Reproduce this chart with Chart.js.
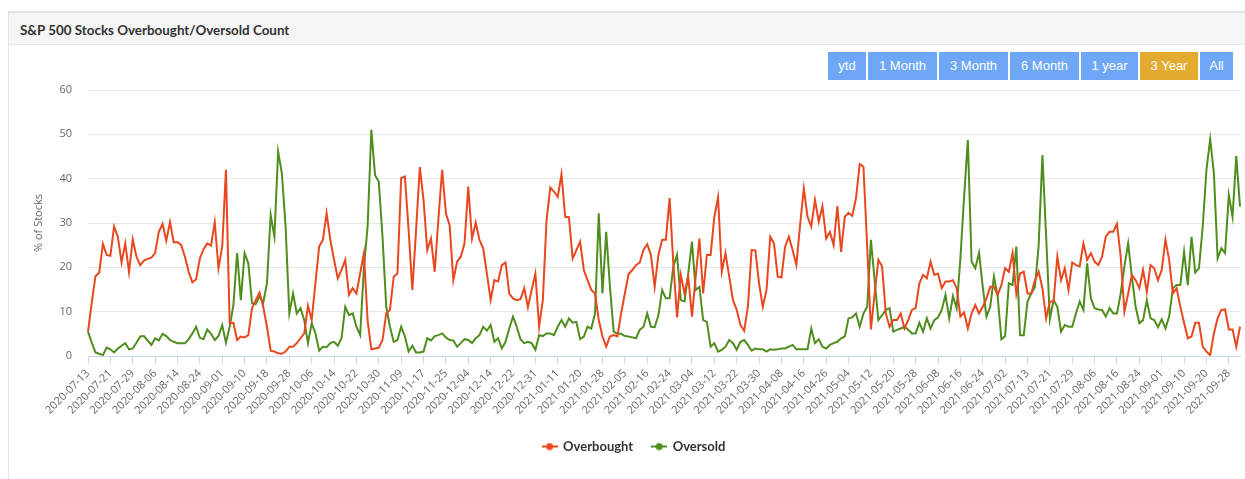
<!DOCTYPE html>
<html>
<head>
<meta charset="utf-8">
<title>S&amp;P 500 Stocks Overbought/Oversold Count</title>
<script src="https://cdn.jsdelivr.net/npm/chart.js@4.4.0/dist/chart.umd.min.js"></script>
<style>
  html, body { margin: 0; padding: 0; background: #fff; }
  body { width: 1245px; height: 479px; position: relative; overflow: hidden; font-family: "Open Sans", sans-serif; }
  .card { position: absolute; left: 8px; top: 11px; width: 1250px; height: 470px; border-left: 1px solid #e4e4e4; border-top: 2px solid #e2e2e2; }
  .card-head { height: 31px; background: #f5f5f5; border-bottom: 1px solid #e8e8e8; }
  .card-head h3 { margin: 0; padding-left: 11px; font: bold 13.4px Lato, "Open Sans", sans-serif; line-height: 34px; color: #333; }
  .btn { position: absolute; top: 52px; height: 28px; text-align: center; background: #6ea7f6; color: #fff; font: 13px "Liberation Sans", Arial, sans-serif; line-height: 28px; }
  .btn.on { background: #e3ab2f; }
  #wrap { position: absolute; left: 8px; top: 80px; width: 1237px; height: 395px; }
</style>
</head>
<body>
<div class="card"><div class="card-head"><h3>S&amp;P 500 Stocks Overbought/Oversold Count</h3></div></div>
<div class="btn" style="left:828px;width:38px">ytd</div>
<div class="btn" style="left:868px;width:69px">1 Month</div>
<div class="btn" style="left:939px;width:69px">3 Month</div>
<div class="btn" style="left:1010px;width:69px">6 Month</div>
<div class="btn" style="left:1081px;width:57px">1 year</div>
<div class="btn on" style="left:1140px;width:58px">3 Year</div>
<div class="btn" style="left:1200px;width:33px">All</div>
<div id="wrap"><canvas id="grafico"></canvas></div>
<script>
// trading days shown on the x axis
const startDate = '2020-07-13';
const endDate = '2021-10-01';
const holidays = ['2020-09-07', '2020-11-26', '2020-12-25', '2021-01-01', '2021-01-18',
  '2021-02-15', '2021-04-02', '2021-05-31', '2021-07-05', '2021-09-06'];
const labelEvery = 6;

// % of stocks overbought (red)
const overbought = [
  5.5, 12, 18, 18.8, 25.3, 22.8, 22.6, 29.2, 26.9, 21.1, 25.4, 18.9, 26.3, 22.4, 20.5, 21.5, 21.9, 22.2, 23.2, 28.0,
  29.8, 26.0, 30.2, 25.6, 25.7, 25.0, 22.4, 19.0, 16.6, 17.3, 22.0, 24.1, 25.4, 24.9, 30.2, 19.8, 24.7, 42.0, 7.4, 7.5,
  3.6, 4.4, 4.2, 4.7, 10.8, 12.6, 14.3, 11.1, 6.6, 1.2, 1.0, 0.6, 0.5, 1.0, 2.1, 2.1, 2.9, 4.0, 5.1, 11.3,
  8.1, 16.4, 24.7, 26.2, 32.2, 26.2, 21.7, 17.5, 19.4, 21.7, 13.8, 15.3, 14.1, 18.6, 23.2, 8.0, 1.5, 1.7, 1.9,
  3.6, 9.6, 10.4, 17.9, 18.6, 40.1, 40.5, 28.4, 14.9, 28.4, 42.6, 35.2, 23.9, 26.5, 19.0, 31.1, 42.0, 32.2, 29.5, 17.1,
  21.3, 22.4, 25.4, 38.2, 26.5, 30.1, 26.2, 24.3, 18.6, 12.6, 17.1, 16.8, 20.5, 21.1, 14.1, 13.0, 12.6, 12.8, 15.3, 11,
  14.9, 18.6, 6.6, 12.6, 30.7, 38.0, 37.1, 35.9, 41.0, 31.4, 31.3, 22.0, 23.9, 25.8, 19.4, 17.1, 14.9, 14.1, 8.1, 4.4,
  2.1, 4.4, 4.7, 4.4, 9.6, 14.1, 18.5, 19.4, 20.5, 21.1, 23.9, 25.2, 22.8, 15.6, 22.8, 26.2, 26.2, 35.6, 21,
  8.7, 18.3, 14.1, 17.9, 8.9, 17.9, 26.5, 14.1, 22.8, 22.8, 31.4, 35.8, 19.0, 23.2, 17.9, 12.6, 10.4, 7.0, 5.7, 11.1,
  23.9, 23.8, 16.4, 11.1, 14.9, 26.9, 25.4, 17.9, 17.7, 24.7, 26.9, 23.9, 20.5, 29.5, 37.8, 31.4, 29.2, 35.2, 30.3,
  33.8, 26.5, 28.0, 25.0, 33.8, 23.5, 31.4, 32.3, 31.6, 35.6, 43.3, 42.7, 24.7, 6.0, 14.1, 21.7, 20.2, 9.6, 6.6, 8.1,
  8.1, 9.6, 6.2, 8.1, 10.4, 10.8, 16.4, 18.3, 17.5, 21.3, 18.3, 18.6, 15.3, 16.8, 16.8, 17.1, 15.3, 8.9, 9.8,
  6.2, 9.6, 11.5, 9.6, 11.1, 13.0, 15.6, 15.6, 13.8, 16.0, 19.8, 19.0, 23.2, 14.1, 18.6, 19.0, 14.1, 14.1, 17.1, 19.0,
  15.3, 8.5, 12.3, 12.3, 22.4, 17.1, 19.8, 14.9, 21.1, 20.5, 20.2, 25.4, 21.7, 23.2, 21.3, 20.5, 22.4, 26.9, 28.0,
  28.0, 29.8, 22.4, 10.0, 14.1, 18.3, 17.1, 15.3, 19.4, 14.5, 20.5, 19.8, 17.1, 19.4, 26.2, 21.7, 14.1, 15.3, 11.1, 7.5,
  4.0, 4.4, 7.5, 7.5, 2.1, 1.0, 0.2, 5.1, 8.5, 10.4, 10.5, 6.0, 6.0, 2.1, 6.6
];

// % of stocks oversold (green)
const oversold = [
  5.5, 3, 0.8, 0.5, 0.2, 1.9, 1.5, 0.8, 1.7, 2.3, 2.9, 1.5, 1.7, 3.0, 4.4, 4.5, 3.5, 2.5, 4.0, 3.5,
  5.0, 4.5, 3.6, 3.2, 2.9, 2.9, 2.9, 3.8, 5.1, 6.6, 4.1, 3.8, 6.0, 5.0, 3.6, 4.5, 7.0, 3.0, 6.6, 11.5,
  23.2, 12.6, 23.2, 20.9, 11.9, 11.7, 13.4, 12.0, 16.4, 31.8, 26.9, 46.1, 41.2, 29.2, 9.6, 14.1, 9.6, 10.8, 8.1, 2.9,
  7.4, 5.1, 1.2, 2.1, 2.0, 2.9, 3.2, 2.3, 4.0, 11.1, 9.2, 9.6, 6.6, 4.7, 19.8, 29.2, 51.0, 40.8, 39.3,
  26.9, 11.1, 6.6, 3.2, 3.6, 6.6, 4.4, 1.0, 2.3, 0.8, 0.8, 1.0, 4.0, 3.5, 4.5, 4.7, 5.1, 4.2, 3.6, 3.5,
  2.1, 2.9, 3.8, 3.6, 2.9, 4.0, 4.7, 6.6, 5.7, 7.0, 3.2, 4.0, 1.7, 3.2, 6.2, 8.9, 6.6, 3.8, 2.9, 3.2,
  2.9, 1.4, 4.7, 4.5, 5.1, 5.1, 4.7, 6.6, 8.1, 6.6, 8.5, 7.5, 7.7, 3.8, 4.4, 6.6, 6.2, 9.6, 32.2, 14.1,
  28.0, 15.6, 5.5, 5.0, 5.0, 4.5, 4.4, 4.2, 4.0, 5.9, 6.6, 9.6, 6.6, 6.5, 9.2, 14.9, 13.0, 13.0, 20.2,
  22.8, 12.6, 12.3, 18.6, 25.8, 14.9, 15.6, 8.1, 7.7, 2.1, 2.9, 1.0, 1.4, 2.1, 3.6, 2.9, 1.4, 3.2, 3.6, 2.5,
  1.2, 1.7, 1.5, 1.5, 1.0, 1.5, 1.4, 1.5, 1.7, 1.7, 2.1, 2.5, 1.5, 1.5, 1.5, 1.5, 6.2, 2.9, 3.8,
  2.1, 1.7, 2.5, 2.9, 3.2, 4.0, 4.4, 8.5, 8.7, 9.6, 6.6, 9.6, 11.1, 26.2, 17.1, 8.1, 9.2, 10.4, 10.8, 5.5,
  5.9, 6.2, 6.6, 5.9, 5.1, 5.1, 7.5, 5.5, 8.5, 6.2, 8.1, 8.7, 10.4, 13.8, 8.5, 13.5, 10.8, 22, 36,
  48.7, 21.3, 19.8, 23.3, 15.6, 8.9, 11.1, 17.9, 13.4, 3.8, 4.5, 16.4, 16.0, 24.7, 4.7, 4.7, 12.3, 14.1, 15.6, 25,
  45.3, 27, 8.3, 12.6, 11.1, 5.5, 7.0, 6.6, 6.6, 9.6, 12.3, 10.4, 20.9, 13.0, 10.8, 10.5, 10.4, 8.9, 10.8,
  9.6, 9.6, 14.1, 20.2, 25.4, 17.9, 11.1, 7.4, 8.1, 12.6, 8.5, 8.1, 6.5, 8.3, 6.2, 8.9, 15.3, 16.0, 16.0, 23.5,
  16.0, 26.9, 18.8, 19.8, 29.2, 42.0, 48.9, 41.2, 22.0, 24.3, 23.2, 36.3, 31.4, 45.1, 33.7
];

// lista de pregões (dias úteis sem feriados)
function tradingDays(from, to, skip) {
  const out = [];
  const d = new Date(from + 'T00:00:00Z');
  const end = new Date(to + 'T00:00:00Z');
  while (d <= end) {
    const iso = d.toISOString().slice(0, 10);
    const wd = d.getUTCDay();
    if (wd !== 0 && wd !== 6 && !skip.includes(iso)) out.push(iso);
    d.setUTCDate(d.getUTCDate() + 1);
  }
  return out;
}
const dates = tradingDays(startDate, endDate, holidays);

const RED = '#e8471f';
const GREEN = '#4f8e1e';

// marcador da legenda: linha com bolinha
function legendMarker(color) {
  const c = document.createElement('canvas');
  c.width = 16; c.height = 8;
  const g = c.getContext('2d');
  g.strokeStyle = color; g.lineWidth = 2;
  g.beginPath(); g.moveTo(0, 4); g.lineTo(16, 4); g.stroke();
  g.fillStyle = color;
  g.beginPath(); g.arc(8, 4, 3.5, 0, Math.PI * 2); g.fill();
  return c;
}

const ctx = document.getElementById('grafico').getContext('2d');
const grafico = new Chart(ctx, {
  type: 'line',
  data: {
    labels: dates,
    datasets: [{
      label: 'Overbought',
      data: overbought,
      borderColor: RED,
      backgroundColor: RED,
      borderWidth: 2,
      pointRadius: 0,
      pointHoverRadius: 4,
      pointStyle: legendMarker(RED),
      tension: 0
    }, {
      label: 'Oversold',
      data: oversold,
      borderColor: GREEN,
      backgroundColor: GREEN,
      borderWidth: 2,
      pointRadius: 0,
      pointHoverRadius: 4,
      pointStyle: legendMarker(GREEN),
      tension: 0
    }]
  },
  options: {
    responsive: true,
    maintainAspectRatio: false,
    animation: false,
    layout: { padding: { left: 20, right: 5, top: 10, bottom: 12 } },
    plugins: {
      legend: {
        position: 'bottom',
        labels: {
          usePointStyle: true,
          pointStyleWidth: 14,
          padding: 19,
          color: '#333',
          font: { family: 'Lato, "Open Sans", sans-serif', size: 13, weight: 'bold' }
        }
      },
      tooltip: { mode: 'index', intersect: false }
    },
    scales: {
      x: {
        ticks: {
          autoSkip: false,
          minRotation: 45,
          maxRotation: 45,
          color: '#666',
          font: { family: '"Open Sans", sans-serif', size: 11 },
          callback: (v, i) => (i % labelEvery === 0 ? dates[i] : null)
        },
        grid: { drawOnChartArea: false, color: '#ccd6eb', tickLength: 8 },
        border: { color: '#ccd6eb' },
        afterFit: s => { s.height = 65; }
      },
      y: {
        min: 0,
        max: 60,
        ticks: { stepSize: 10, color: '#666', padding: 2, font: { family: '"Open Sans", sans-serif', size: 11 } },
        grid: { color: '#e6e6e6', drawTicks: true, tickLength: 14, tickColor: 'rgba(0,0,0,0)' },
        border: { display: false },
        title: { display: true, text: '% of Stocks', color: '#666', font: { family: '"Open Sans", sans-serif', size: 11 } },
        afterFit: s => { s.width = 60; }
      }
    }
  }
});
</script>
</body>
</html>
